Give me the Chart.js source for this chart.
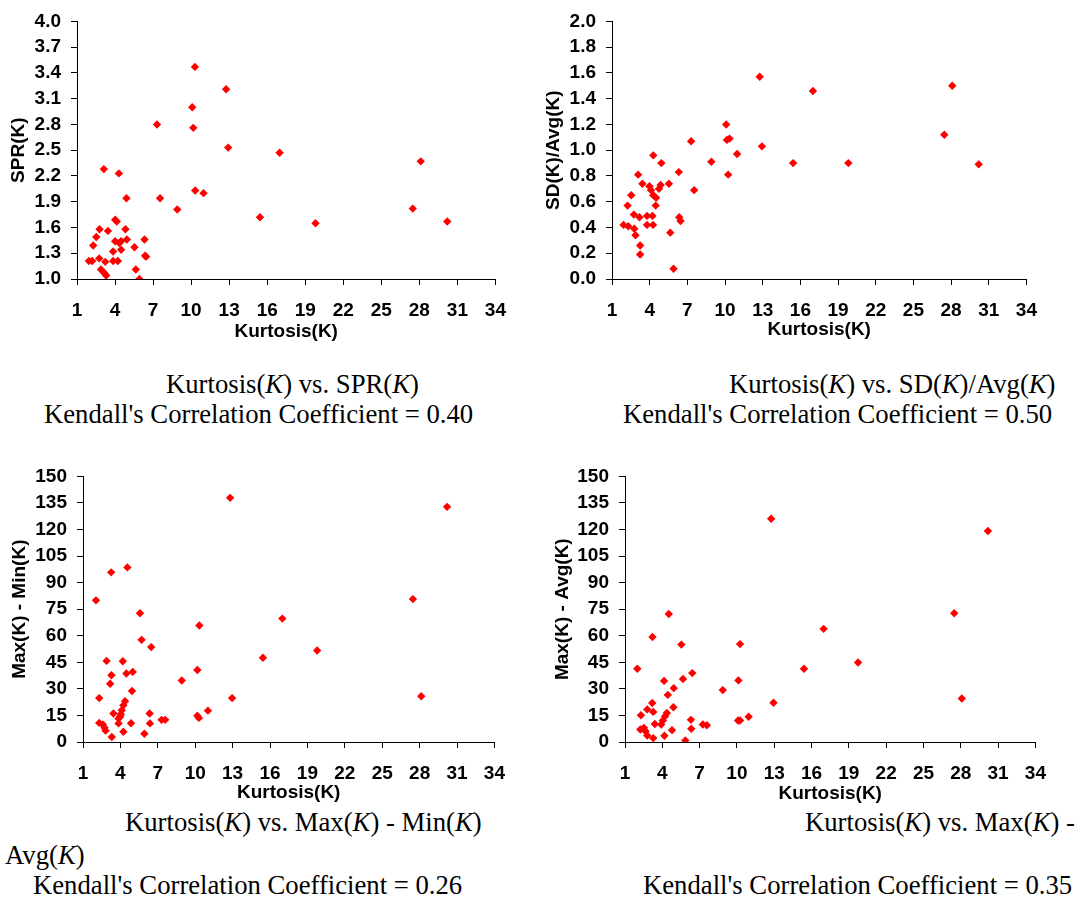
<!DOCTYPE html>
<html>
<head>
<meta charset="utf-8">
<script src="https://cdn.jsdelivr.net/npm/chart.js@4.4.1/dist/chart.umd.min.js"></script>
<style>
  body { margin: 0; background: #fff; }
  #page { position: relative; width: 1092px; height: 900px; overflow: hidden; }
  canvas { position: absolute; }
  .cap {
    position: absolute;
    font-family: 'Liberation Serif', 'Times New Roman', serif;
    font-size: 26.7px;
    line-height: 26px;
    white-space: nowrap;
    color: #000;
  }
</style>
</head>
<body>
<div id="page">
  <canvas id="c1" width="513" height="343" style="left:7px;top:0px"></canvas>
  <canvas id="c2" width="509" height="341" style="left:542px;top:0px"></canvas>
  <canvas id="c3" width="511" height="349" style="left:8px;top:455px"></canvas>
  <canvas id="c4" width="509" height="350" style="left:551px;top:455px"></canvas>

  <div class="cap" style="left:166px;top:371px">Kurtosis(<i>K</i>) vs. SPR(<i>K</i>)</div>
  <div class="cap" style="left:44px;top:401px">Kendall's Correlation Coefficient = 0.40</div>
  <div class="cap" style="left:729px;top:371px">Kurtosis(<i>K</i>) vs. SD(<i>K</i>)/Avg(<i>K</i>)</div>
  <div class="cap" style="left:623px;top:401px">Kendall's Correlation Coefficient = 0.50</div>

  <div class="cap" style="left:125px;top:809px">Kurtosis(<i>K</i>) vs. Max(<i>K</i>) - Min(<i>K</i>)</div>
  <div class="cap" style="left:5px;top:842px">Avg(<i>K</i>)</div>
  <div class="cap" style="left:33px;top:872px">Kendall's Correlation Coefficient = 0.26</div>
  <div class="cap" style="left:805px;top:809px">Kurtosis(<i>K</i>) vs. Max(<i>K</i>) -</div>
  <div class="cap" style="left:643px;top:872px">Kendall's Correlation Coefficient = 0.35</div>
</div>

<script>
// tick labels
const xTicks = [1, 4, 7, 10, 13, 16, 19, 22, 25, 28, 31, 34];
const sprTicks = [1.0, 1.3, 1.6, 1.9, 2.2, 2.5, 2.8, 3.1, 3.4, 3.7, 4.0];
const cvTicks = [0.0, 0.2, 0.4, 0.6, 0.8, 1.0, 1.2, 1.4, 1.6, 1.8, 2.0];
const bigTicks = [0, 15, 30, 45, 60, 75, 90, 105, 120, 135, 150];

// Kurtosis vs SPR
const kurtSpr = [10.30, 12.76, 10.09, 7.31, 10.17, 12.92, 16.98, 28.11, 3.12, 4.30,
  4.90, 7.55, 10.32, 10.98, 8.91, 27.48, 15.43, 19.81, 30.20, 4.01,
  4.14, 2.78, 3.44, 4.82, 2.52, 2.28, 4.01, 4.48, 4.93, 6.32,
  5.53, 3.85, 4.48, 6.37, 6.45, 1.94, 2.20, 2.75, 3.23, 3.85,
  4.22, 2.89, 3.15, 3.30, 5.64, 5.92, 4.33];
const spr = [3.47, 3.21, 3.00, 2.80, 2.76, 2.53, 2.47, 2.37, 2.28, 2.23,
  1.94, 1.94, 2.03, 2.00, 1.81, 1.82, 1.72, 1.65, 1.67, 1.69,
  1.67, 1.58, 1.56, 1.58, 1.49, 1.39, 1.44, 1.44, 1.46, 1.46,
  1.37, 1.32, 1.34, 1.27, 1.26, 1.21, 1.21, 1.24, 1.20, 1.21,
  1.21, 1.11, 1.07, 1.04, 1.11, 1.00, 1.42];

// Kurtosis vs SD/Avg
const kurtCv = [12.76, 17.00, 28.09, 10.09, 27.46, 7.30, 10.15, 10.36, 12.94, 10.96,
  4.29, 4.93, 8.91, 15.42, 19.82, 30.20, 10.25, 3.08, 6.32, 3.42,
  5.53, 4.87, 4.74, 3.98, 4.11, 4.29, 4.51, 7.54, 2.53, 2.24,
  4.48, 2.74, 3.19, 3.79, 4.22, 6.35, 6.46, 1.92, 2.29, 3.79,
  4.27, 2.77, 2.87, 5.64, 3.24, 3.24, 5.90];
const cv = [1.57, 1.46, 1.50, 1.20, 1.12, 1.07, 1.08, 1.09, 1.03, 0.97,
  0.96, 0.90, 0.91, 0.90, 0.90, 0.89, 0.81, 0.81, 0.83, 0.74,
  0.74, 0.73, 0.70, 0.72, 0.69, 0.65, 0.63, 0.69, 0.65, 0.57,
  0.57, 0.50, 0.48, 0.49, 0.49, 0.48, 0.45, 0.42, 0.41, 0.42,
  0.42, 0.39, 0.34, 0.36, 0.26, 0.19, 0.08];

// Kurtosis vs Max - Min
const kurtRange = [12.80, 30.20, 3.26, 4.56, 2.04, 27.46, 5.57, 16.99, 10.33, 5.70,
  6.47, 19.78, 15.43, 2.89, 4.19, 10.17, 3.28, 4.48, 4.99, 8.92,
  3.18, 4.93, 2.30, 12.96, 28.13, 4.37, 4.24, 4.11, 4.03, 3.98,
  3.44, 6.34, 11.02, 10.17, 10.30, 7.30, 7.59, 3.85, 3.85, 4.85,
  6.37, 2.30, 2.59, 2.73, 2.81, 4.24, 5.92, 3.31];
const rangeVals = [137.9, 132.8, 95.8, 98.6, 80.0, 80.7, 72.7, 69.7, 65.8, 57.7,
  53.6, 51.7, 47.6, 45.8, 45.6, 40.7, 37.7, 38.7, 39.6, 34.7,
  32.9, 28.8, 24.8, 24.8, 25.8, 23.0, 20.7, 17.9, 15.7, 14.2,
  16.1, 16.1, 17.7, 14.8, 13.6, 12.5, 12.5, 13.3, 10.5, 10.6,
  10.5, 10.8, 9.9, 8.0, 6.4, 5.8, 4.7, 2.8];

// Kurtosis vs Max - Avg
const kurtMax = [12.75, 30.18, 4.52, 27.47, 16.97, 3.21, 5.53, 10.25, 19.74, 1.99,
  15.39, 6.41, 5.66, 10.12, 4.14, 4.92, 8.86, 4.44, 12.94, 28.08,
  3.19, 3.27, 2.79, 4.89, 2.28, 4.36, 4.22, 4.04, 3.91, 6.30,
  10.94, 10.09, 10.25, 7.26, 7.58, 3.40, 6.33, 4.78, 2.23, 2.52,
  2.65, 2.79, 4.17, 3.27, 5.85];
const maxAvg = [126.1, 119.2, 72.3, 72.7, 63.9, 59.3, 55.0, 55.3, 44.9, 41.4,
  41.4, 38.9, 35.6, 34.8, 34.5, 30.4, 29.3, 26.6, 22.2, 24.6,
  22.0, 17.0, 18.4, 19.6, 15.1, 16.4, 14.5, 12.1, 9.9, 12.5,
  14.3, 12.1, 12.1, 9.9, 9.5, 10.2, 7.5, 6.7, 7.1, 8.0,
  6.1, 3.7, 3.5, 2.2, 0.9];

const axisFont = { family: "'Liberation Sans', Arial, sans-serif", size: 19, weight: 'bold' };

function makeScatter(id, xs, ys, yTicks, yTitle, decimals, box) {
  const ctx = document.getElementById(id).getContext('2d');
  const points = xs.map((x, i) => ({ x: x, y: ys[i] }));

  return new Chart(ctx, {
    type: 'scatter',
    data: {
      datasets: [{
        data: points,
        pointStyle: 'rectRot',
        pointRadius: 4.2,
        borderWidth: 0,
        backgroundColor: '#ff0000',
        borderColor: '#ff0000'
      }]
    },
    options: {
      responsive: false,
      animation: false,
      events: [],
      layout: { padding: { top: box.top, right: box.right, left: 0, bottom: 0 } },
      plugins: { legend: { display: false }, tooltip: { enabled: false } },
      scales: {
        x: {
          type: 'linear',
          min: 1,
          max: 34,
          afterBuildTicks: s => { s.ticks = xTicks.map(v => ({ value: v })); },
          afterFit: s => { s.height = box.xh; },
          ticks: { font: axisFont, color: '#000', padding: 14, autoSkip: false, maxRotation: 0 },
          grid: { drawOnChartArea: false, drawTicks: true, tickLength: 6, color: '#000' },
          border: { color: '#000', width: 1 },
          title: { display: true, text: 'Kurtosis(K)', font: axisFont, color: '#000', padding: 0 }
        },
        y: {
          min: yTicks[0],
          max: yTicks[yTicks.length - 1],
          afterBuildTicks: s => { s.ticks = yTicks.map(v => ({ value: v })); },
          afterFit: s => { s.width = box.yw; },
          ticks: {
            font: axisFont, color: '#000', padding: 10, autoSkip: false,
            callback: v => Number(v).toFixed(decimals)
          },
          grid: { drawOnChartArea: false, drawTicks: true, tickLength: 6, color: '#000' },
          border: { color: '#000', width: 1 },
          title: { display: true, text: yTitle, font: axisFont, color: '#000', padding: 0 }
        }
      }
    }
  });
}

makeScatter('c1', kurtSpr, spr, sprTicks, 'SPR(K)', 1, { top: 13, right: 23, yw: 70, xh: 64 });
makeScatter('c2', kurtCv, cv, cvTicks, 'SD(K)/Avg(K)', 1, { top: 12, right: 22, yw: 70, xh: 62 });
makeScatter('c3', kurtRange, rangeVals, bigTicks, 'Max(K) - Min(K)', 0, { top: 19, right: 22, yw: 75, xh: 62 });
makeScatter('c4', kurtMax, maxAvg, bigTicks, 'Max(K) - Avg(K)', 0, { top: 19, right: 22, yw: 74, xh: 63 });
</script>
</body>
</html>
